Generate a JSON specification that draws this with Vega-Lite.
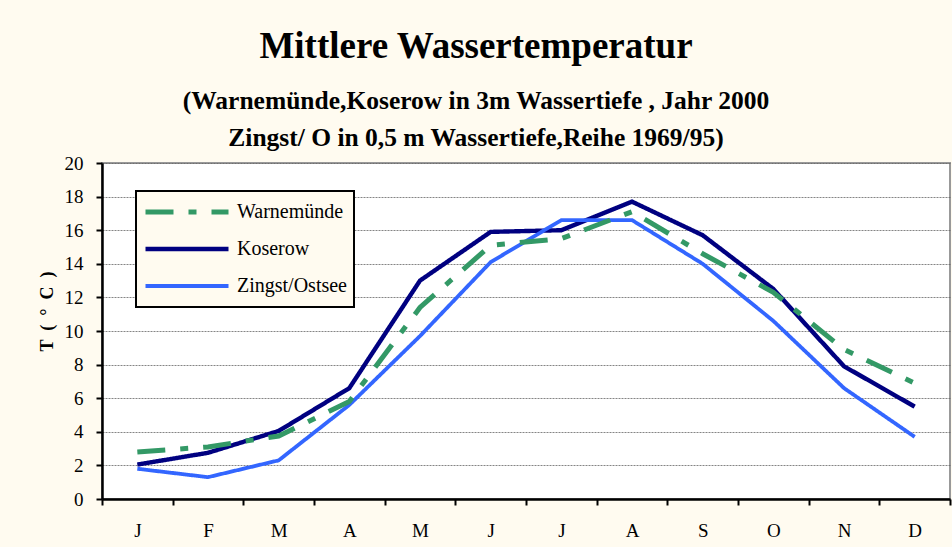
{
  "$schema": "https://vega.github.io/schema/vega-lite/v6.json",
  "width": 848,
  "height": 336,
  "autosize": {"type": "none"},
  "padding": {"left": 102, "top": 163, "right": 2, "bottom": 48},
  "background": "#FFFBF0",
  "title": {
    "text": "Mittlere Wassertemperatur",
    "subtitle": ["(Warnemünde,Koserow in 3m Wassertiefe , Jahr 2000", "Zingst/ O in 0,5 m Wassertiefe,Reihe 1969/95)"],
    "font": "Liberation Serif",
    "fontSize": 37,
    "fontWeight": "bold",
    "color": "black",
    "subtitleFont": "Liberation Serif",
    "subtitleFontSize": 25.5,
    "subtitleFontWeight": "bold",
    "subtitleColor": "black",
    "subtitleLineHeight": 37,
    "subtitlePadding": 23,
    "anchor": "middle",
    "dx": -50,
    "offset": 2
  },
  "data": {
    "values": [
      {"m": 1, "series": "Koserow", "temp": 2.05},
      {"m": 2, "series": "Koserow", "temp": 2.75},
      {"m": 3, "series": "Koserow", "temp": 4.05},
      {"m": 4, "series": "Koserow", "temp": 6.6},
      {"m": 5, "series": "Koserow", "temp": 13.0},
      {"m": 6, "series": "Koserow", "temp": 15.9},
      {"m": 7, "series": "Koserow", "temp": 16.0},
      {"m": 8, "series": "Koserow", "temp": 17.7},
      {"m": 9, "series": "Koserow", "temp": 15.7},
      {"m": 10, "series": "Koserow", "temp": 12.5},
      {"m": 11, "series": "Koserow", "temp": 7.9},
      {"m": 12, "series": "Koserow", "temp": 5.5},
      {"m": 1, "series": "Zingst/Ostsee", "temp": 1.8},
      {"m": 2, "series": "Zingst/Ostsee", "temp": 1.3},
      {"m": 3, "series": "Zingst/Ostsee", "temp": 2.3},
      {"m": 4, "series": "Zingst/Ostsee", "temp": 5.6},
      {"m": 5, "series": "Zingst/Ostsee", "temp": 9.7},
      {"m": 6, "series": "Zingst/Ostsee", "temp": 14.1},
      {"m": 7, "series": "Zingst/Ostsee", "temp": 16.6},
      {"m": 8, "series": "Zingst/Ostsee", "temp": 16.6},
      {"m": 9, "series": "Zingst/Ostsee", "temp": 14.0},
      {"m": 10, "series": "Zingst/Ostsee", "temp": 10.6},
      {"m": 11, "series": "Zingst/Ostsee", "temp": 6.6},
      {"m": 12, "series": "Zingst/Ostsee", "temp": 3.7},
      {"m": 1, "series": "Warnemünde", "temp": 2.8},
      {"m": 2, "series": "Warnemünde", "temp": 3.1},
      {"m": 3, "series": "Warnemünde", "temp": 3.75},
      {"m": 4, "series": "Warnemünde", "temp": 5.8},
      {"m": 5, "series": "Warnemünde", "temp": 11.4},
      {"m": 6, "series": "Warnemünde", "temp": 15.1},
      {"m": 7, "series": "Warnemünde", "temp": 15.5},
      {"m": 8, "series": "Warnemünde", "temp": 17.1},
      {"m": 9, "series": "Warnemünde", "temp": 14.6},
      {"m": 10, "series": "Warnemünde", "temp": 12.3},
      {"m": 11, "series": "Warnemünde", "temp": 8.9},
      {"m": 12, "series": "Warnemünde", "temp": 6.9}
    ]
  },
  "mark": {"type": "line", "strokeCap": "butt", "strokeJoin": "miter"},
  "encoding": {
    "x": {
      "field": "m",
      "type": "ordinal",
      "scale": {"paddingInner": 0, "paddingOuter": 0},
      "axis": {
        "title": null,
        "labelAngle": 0,
        "tickBand": "extent",
        "grid": false,
        "labelExpr": "['J','F','M','A','M','J','J','A','S','O','N','D'][datum.value-1]",
        "labelPadding": 16,
        "labelFontSize": 19
      }
    },
    "y": {
      "field": "temp",
      "type": "quantitative",
      "scale": {"domain": [0, 20], "nice": false},
      "axis": {
        "title": "T \u00a0( \u00a0° \u00a0C \u00a0)",
        "titleFontWeight": "bold",
        "titleFontSize": 18,
        "titlePadding": 8,
        "titleY": 148,
        "values": [0, 2, 4, 6, 8, 10, 12, 14, 16, 18, 20],
        "labelPadding": 13,
        "labelFontSize": 19,
        "grid": true
      }
    },
    "color": {
      "field": "series",
      "type": "nominal",
      "scale": {"domain": ["Warnemünde", "Koserow", "Zingst/Ostsee"], "range": ["#339966", "#000080", "#3366FF"]},
      "legend": {"title": null}
    },
    "strokeDash": {
      "field": "series",
      "type": "nominal",
      "scale": {"domain": ["Warnemünde", "Koserow", "Zingst/Ostsee"], "range": [[28, 15, 8, 15], [1, 0], [1, 0]]},
      "legend": {"title": null}
    },
    "strokeWidth": {
      "field": "series",
      "type": "nominal",
      "scale": {"domain": ["Warnemünde", "Koserow", "Zingst/Ostsee"], "range": [5, 3.8, 1.5]},
      "legend": {"title": null}
    }
  },
  "config": {
    "font": "Liberation Serif",
    "view": {"stroke": "#999999", "strokeWidth": 2, "fill": "white"},
    "axis": {
      "labelFont": "Liberation Serif",
      "titleFont": "Liberation Serif",
      "labelColor": "black",
      "titleColor": "black",
      "domainColor": "black",
      "domainWidth": 2.5,
      "tickColor": "black",
      "tickWidth": 2,
      "tickSize": 6,
      "gridColor": "#666666",
      "gridDash": [2, 1],
      "gridWidth": 0.8
    },
    "legend": {
      "orient": "none",
      "legendX": 34,
      "legendY": 28,
      "fillColor": "#FFFBF0",
      "strokeColor": "black",
      "strokeWidth": 2,
      "padding": 7,
      "symbolType": "stroke",
      "symbolSize": 6889,
      "clipHeight": 28,
      "rowPadding": 9,
      "labelOffset": 6,
      "labelFont": "Liberation Serif",
      "labelFontSize": 20,
      "labelColor": "black",
      "labelLimit": 300
    }
  }
}
